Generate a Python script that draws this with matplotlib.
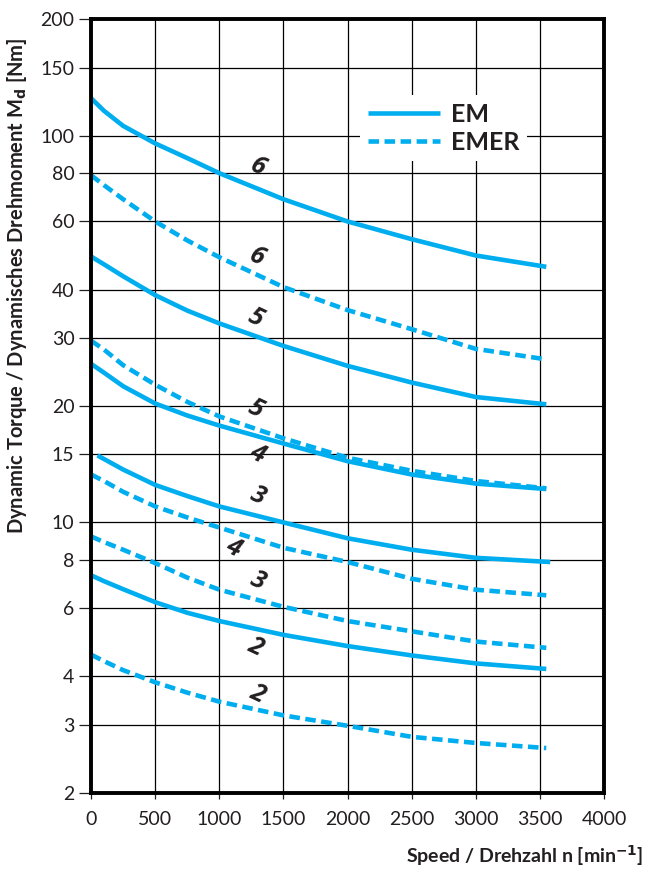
import matplotlib
matplotlib.use('Agg')
from matplotlib import pyplot as plt
from matplotlib.ticker import FixedLocator, NullLocator, FixedFormatter

speed = [0, 100, 250, 500, 750, 1000, 1500, 2000, 2500, 3000, 3550]
speed_em3 = [50, 250, 500, 750, 1000, 1500, 2000, 2500, 3000, 3580]

# dynamic torque (Nm), EM = solid, EMER = dashed
em6 = [125, 116, 106, 95.5, 87.5, 80, 68.5, 60, 54, 49, 45.8]
em5 = [48.7, 46.5, 43.3, 38.7, 35.3, 32.7, 28.6, 25.4, 23.0, 21.1, 20.2]
em4 = [25.7, 24.4, 22.5, 20.3, 18.9, 17.8, 16.0, 14.4, 13.3, 12.6, 12.2]
em3 = [14.9, 13.7, 12.5, 11.7, 11.0, 10.0, 9.1, 8.5, 8.1, 7.9]
em2 = [7.3, 7.05, 6.72, 6.22, 5.84, 5.56, 5.12, 4.79, 4.53, 4.32, 4.18]

emer6 = [79, 74.5, 68.5, 60, 53.6, 48.5, 40.6, 35.4, 31.6, 28.1, 26.4]
emer5 = [29.5, 28, 25.5, 22.7, 20.5, 18.8, 16.5, 14.7, 13.6, 12.8, 12.25]
emer4 = [13.3, 12.8, 12.0, 11.0, 10.3, 9.7, 8.6, 7.9, 7.15, 6.7, 6.48]
emer3 = [9.2, 8.9, 8.5, 7.85, 7.2, 6.7, 6.05, 5.56, 5.23, 4.92, 4.74]
emer2 = [4.55, 4.38, 4.15, 3.86, 3.63, 3.44, 3.17, 2.98, 2.79, 2.69, 2.61]

# size labels: (text, x, y)
labels = [('6', 1300, 82.8), ('6', 1290, 48.7), ('5', 1280, 33.8),
          ('5', 1280, 19.6), ('4', 1300, 15.0), ('3', 1300, 11.7),
          ('4', 1110, 8.6), ('3', 1300, 7.05), ('2', 1280, 4.77),
          ('2', 1300, 3.6)]

yticks = [2, 3, 4, 6, 8, 10, 15, 20, 30, 40, 60, 80, 100, 150, 200]
xticks = [0, 500, 1000, 1500, 2000, 2500, 3000, 3500, 4000]

blue = '#00aeef'
ink = '#231f20'
dash = (0, (2.3, 1.2))

plt.rcParams['font.family'] = ['Lato', 'DejaVu Sans']
fig = plt.figure(figsize=(6.46, 8.75), dpi=100)
ax = fig.add_axes([0.141, 0.094, 0.794, 0.884])

style = dict(color=blue, lw=3.3, solid_capstyle='butt', solid_joinstyle='round')
ax.plot(speed, em6, label='EM', **style)
ax.plot(speed, emer6, ls=dash, label='EMER', **style)
for s in [em5, em4, em2]:
    ax.plot(speed, s, **style)
ax.plot(speed_em3, em3, **style)
for s in [emer5, emer4, emer3, emer2]:
    ax.plot(speed, s, ls=dash, **style)

for t, x, y in labels:
    ax.text(x, y, t, fontsize=18, fontweight='bold', fontstyle='italic',
            family=['Open Sans', 'DejaVu Sans'],
            rotation=-25, ha='center', va='center', color=ink)

ax.set_yscale('log')
ax.set_xlim(0, 4000)
ax.set_ylim(2, 200)
ax.yaxis.set_major_locator(FixedLocator(yticks))
ax.yaxis.set_major_formatter(FixedFormatter([str(v) for v in yticks]))
ax.yaxis.set_minor_locator(NullLocator())
ax.set_xticks(xticks)
ax.grid(True, color='black', lw=0.9)
ax.set_axisbelow(True)
for sp in ax.spines.values():
    sp.set_linewidth(2.8)
ax.tick_params(axis='both', labelsize=14, colors=ink, width=0.9)
ax.tick_params(axis='y', length=9, pad=3)
ax.tick_params(axis='x', length=4, pad=9)

ax.set_ylabel('Dynamic Torque / Dynamisches Drehmoment M$_\\mathbf{d}$ [Nm]',
              fontsize=14.5, fontweight='bold', color=ink)
ax.yaxis.set_label_coords(-0.122, 0.655)
fig.text(0.996, 0.008, 'Speed / Drehzahl n [min$^{\\mathbf{-1}}$]', fontsize=14,
         fontweight='bold', ha='right', va='bottom', color=ink)

leg = ax.legend(loc='upper left', bbox_to_anchor=(0.5, 0.918), frameon=True,
                fontsize=18, handlelength=2.9, handletextpad=0.45,
                borderpad=0.3, labelspacing=0.2)
leg.get_frame().set_facecolor('white')
leg.get_frame().set_edgecolor('none')
leg.get_frame().set_alpha(1)
for t in leg.get_texts():
    t.set_fontweight('bold')
    t.set_color(ink)

fig.savefig('out.png', dpi=100)
